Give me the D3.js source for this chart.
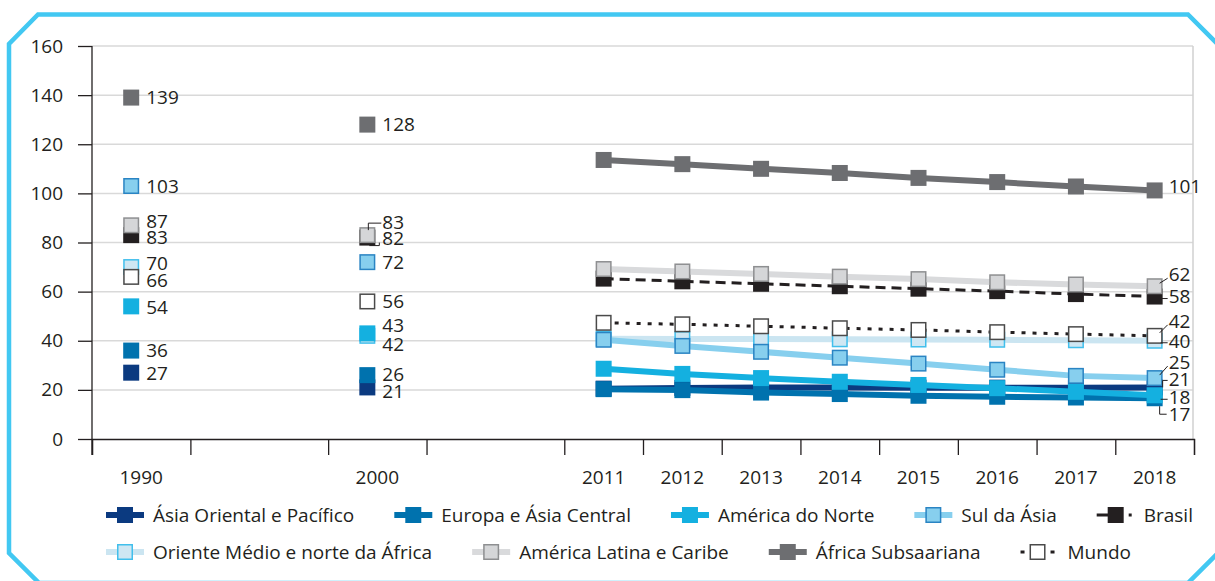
<!DOCTYPE html>
<html lang="pt">
<head>
<meta charset="utf-8">
<script src="https://cdn.jsdelivr.net/npm/d3@7"></script>
<style>
  html, body { margin: 0; padding: 0; background: #fff; }
  svg { display: block; font-family: 'Open Sans', sans-serif; }
</style>
</head>
<body>
<div class="chart"></div>
<script>
// Dimensions du graphique
const width = 1215;
const height = 581;
const margin = { top: 46, right: 22, bottom: 142, left: 92 };
const ink = '#231f20';
const fontSize = 19;

// Données
const years = ['1990', '2000', '2011', '2012', '2013', '2014', '2015', '2016', '2017', '2018'];
const yTicks = [0, 20, 40, 60, 80, 100, 120, 140, 160];

const asiaOriental = [27, 21, 20.5, 20.8, 21.0, 21.0, 20.9, 20.9, 20.9, 21.0];
const europaAsiaCentral = [36, 26, 20.3, 19.9, 18.9, 18.3, 17.6, 17.2, 16.9, 16.6];
const americaNorte = [54, 43, 28.6, 26.5, 24.8, 23.3, 22.0, 20.7, 19.2, 17.8];
const sulAsia = [103, 72, 40.4, 37.9, 35.5, 33.1, 30.7, 28.2, 25.7, 24.8];
const brasil = [83, 82, 65.3, 64.2, 63.2, 62.2, 61.2, 60.2, 59.0, 58.0];
const orienteMedio = [70, 42, 40.8, 40.7, 40.7, 40.6, 40.5, 40.4, 40.2, 40.0];
const americaLatina = [87, 83, 69.2, 68.2, 67.2, 66.1, 65.1, 63.8, 62.9, 62.2];
const africaSub = [139, 128, 113.6, 111.9, 110.0, 108.3, 106.3, 104.6, 102.8, 101.2];
const mundo = [66, 56, 47.3, 46.7, 45.9, 45.1, 44.4, 43.5, 42.7, 42.0];

// Séries (ordre de la légende) + style
const series = [
  { name: 'Ásia Oriental e Pacífico', values: asiaOriental, line: '#0b3a80', fill: '#0b3a80', stroke: 'none', z: 0,
    nudge: [0, 4, -8], leader: [null, null, 'up'] },
  { name: 'Europa e Ásia Central', values: europaAsiaCentral, line: '#0072ae', fill: '#0072ae', stroke: 'none', z: 1,
    nudge: [0, -1, 16], leader: [null, null, 'down'] },
  { name: 'América do Norte', values: americaNorte, line: '#14b0e0', fill: '#14b0e0', stroke: 'none', z: 3,
    nudge: [1, -8, 2], leader: [null, null, 'flat'] },
  { name: 'Sul da Ásia', values: sulAsia, line: '#87cfee', fill: '#87cfee', stroke: '#2a84c3', z: 4,
    nudge: [0, 0, -16], leader: [null, null, 'diag'] },
  { name: 'Brasil', values: brasil, line: ink, fill: ink, stroke: 'none', dash: '10,6', lw: 3, z: 5,
    legendDash: '20,12,3,10', legendLen: 36,
    nudge: [2, 1, 0], leader: [null, 'hook', 'flat'] },
  { name: 'Oriente Médio e norte da África', values: orienteMedio, line: '#cbe5f1', fill: '#cfe7f3', stroke: '#41bfec', z: 2,
    nudge: [-4, 8, 0], leader: [null, null, 'flat'] },
  { name: 'América Latina e Caribe', values: americaLatina, line: '#d9dadc', fill: '#d5d6d8', stroke: '#8e8f91', z: 6,
    nudge: [-4, -13, -12], leader: [null, 'up', 'diag'] },
  { name: 'África Subsaariana', values: africaSub, line: '#6d6e71', fill: '#6d6e71', stroke: 'none', z: 7,
    nudge: [0, 0, -4], leader: [null, null, null] },
  { name: 'Mundo', values: mundo, line: ink, fill: '#fff', stroke: '#4a4a4a', dash: '4,7', lw: 3, z: 8,
    legendDash: '4,26,4', legendLen: 34,
    nudge: [3, 0, -15], leader: [null, null, 'diag'] }
];

// Positions des catégories (1990 et 2000 plus larges, puis un espace)
function slot(i) {
  if (i === 0) return [0, 1.25];
  if (i === 1) return [3, 4.25];
  return [4 + i, 5 + i];
}
const edges = [0, 1.25, 3, 4.25, 6, 7, 8, 9, 10, 11, 12, 13, 14];

const x = d3.scaleLinear().domain([0, 14]).range([margin.left, width - margin.right + 1]);
const y = d3.scaleLinear().domain([0, 160]).range([height - margin.bottom, margin.top]);

function xMid(i) { const s = slot(i); return x((s[0] + s[1]) / 2); }
function xMark(i) { return xMid(i) - (i < 2 ? 10 : 0); }

const svg = d3.select('.chart').append('svg')
  .attr('width', width)
  .attr('height', height)
  .style('font-size', fontSize + 'px');

// Cadre bleu
svg.append('path')
  .attr('d', 'M38,14.5 H1188 L1222,48.5 V549 L1188,583 H39 L9,553 V44 Z')
  .attr('fill', 'none')
  .attr('stroke', '#42c8f2')
  .attr('stroke-width', 4.5);

// Grille
svg.append('g')
  .selectAll('line')
  .data(yTicks.filter(d => d > 0))
  .join('line')
    .attr('x1', x(0)).attr('x2', width - margin.right)
    .attr('y1', d => y(d)).attr('y2', d => y(d))
    .attr('stroke', '#d9d9d9').attr('stroke-width', 1.5);

svg.append('line')
  .attr('x1', width - margin.right).attr('x2', width - margin.right)
  .attr('y1', y(160)).attr('y2', y(0))
  .attr('stroke', '#d0d0d0').attr('stroke-width', 1.5);

// Axe vertical
svg.append('g')
  .attr('transform', `translate(${x(0)},0)`)
  .call(d3.axisLeft(y).tickValues(yTicks).tickSize(14).tickPadding(15))
  .call(g => g.select('.domain').remove())
  .call(g => g.selectAll('line').attr('stroke', ink).attr('stroke-width', 1.3))
  .call(g => g.selectAll('text').attr('fill', ink).style('font-size', fontSize + 'px').style('font-family', 'Open Sans'));

svg.append('line')
  .attr('x1', x(0)).attr('x2', x(0))
  .attr('y1', y(160)).attr('y2', y(0) + 16)
  .attr('stroke', ink).attr('stroke-width', 1.3);

// Axe horizontal
svg.append('g')
  .attr('transform', `translate(0,${y(0)})`)
  .call(d3.axisBottom(x).tickValues(edges).tickSize(16).tickFormat(''))
  .call(g => g.select('.domain').attr('stroke', ink).attr('stroke-width', 1.3))
  .call(g => g.selectAll('line').attr('stroke', ink).attr('stroke-width', 1.3));

svg.append('g')
  .selectAll('text')
  .data(years)
  .join('text')
    .attr('x', (d, i) => xMid(i))
    .attr('y', y(0) + 38)
    .attr('dy', '0.36em')
    .attr('text-anchor', 'middle')
    .attr('fill', ink)
    .text(d => d);

// Séries
const drawOrder = series.slice().sort((a, b) => a.z - b.z);
const recent = d3.range(2, years.length);
const line = d3.line().x(i => xMark(i));
const ms = 16;

function marker(sel, s, cx, cy) {
  const inset = s.stroke === 'none' ? 0 : 0.75;
  return sel.append('rect')
    .attr('x', cx - ms / 2 + inset)
    .attr('y', cy - ms / 2 + inset)
    .attr('width', ms - 2 * inset)
    .attr('height', ms - 2 * inset)
    .attr('fill', s.fill)
    .attr('stroke', s.stroke)
    .attr('stroke-width', 1.5);
}

drawOrder.forEach(s => {
  const g = svg.append('g');
  g.append('path')
    .attr('d', line.y(i => y(s.values[i]))(recent))
    .attr('fill', 'none')
    .attr('stroke', s.line)
    .attr('stroke-width', s.lw || 6)
    .attr('stroke-dasharray', s.dash || null);

  d3.range(years.length).forEach(i => marker(g, s, xMark(i), y(s.values[i])));
});

// Étiquettes de valeurs (1990, 2000, 2018)
const labelled = [0, 1, years.length - 1];
const labels = svg.append('g').attr('fill', ink);
const leaders = svg.append('g').attr('fill', 'none').attr('stroke', ink).attr('stroke-width', 1);

series.forEach(s => {
  labelled.forEach((idx, k) => {
    const mx = xMark(idx);
    const my = y(s.values[idx]);
    const ly = my + s.nudge[k];
    const lx = mx + (k === 2 ? 14 : 15);
    labels.append('text')
      .attr('x', lx)
      .attr('y', ly)
      .attr('dy', '0.36em')
      .text(d3.format('.0f')(s.values[idx]));

    const type = s.leader[k];
    let p = null;
    if (type === 'up') p = `M${mx + 1 + (k === 2 ? 7 : 0)},${my - (k === 2 ? 0 : 5)} V${ly + 1} H${lx - 1}`;
    if (type === 'down') p = `M${mx + 5},${my + 8} V${ly} H${lx - 2}`;
    if (type === 'diag') p = `M${mx + 5},${my - 3} L${lx - 1},${ly + 4}`;
    if (type === 'flat') p = `M${mx + 6},${ly + 2} H${lx - 1}`;
    if (type === 'hook') p = `M${mx + 2},${my + 8} H${mx + 12} V${my + 5}`;
    if (p) leaders.append('path').attr('d', p);
  });
});

// Légende
const legendRows = [series.slice(0, 5), series.slice(5)];
const legendY = [515, 552];
const legend = svg.append('g');

legendRows.forEach((row, r) => {
  let cx = 106;
  row.forEach(s => {
    const len = s.legendLen || 38;
    const g = legend.append('g').attr('transform', `translate(${cx},${legendY[r]})`);
    g.append('line')
      .attr('x1', 0).attr('x2', len)
      .attr('stroke', s.line)
      .attr('stroke-width', s.lw || 6)
      .attr('stroke-dasharray', s.legendDash || null);
    marker(g, s, s.legendDash === '4,26,4' ? 17 : 19, 0);
    const t = g.append('text')
      .attr('x', 47)
      .attr('dy', '0.36em')
      .attr('fill', ink)
      .text(s.name);
    cx += 47 + t.node().getComputedTextLength() + 40;
  });
});
</script>
</body>
</html>
